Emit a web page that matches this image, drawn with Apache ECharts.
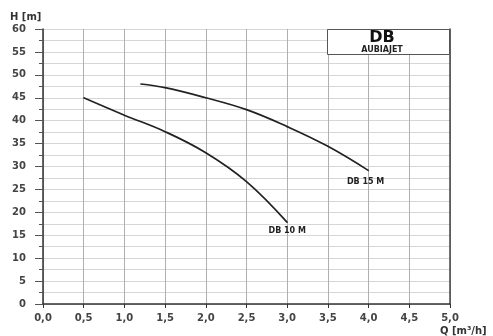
<!DOCTYPE html>
<html><head><meta charset="utf-8">
<script src="https://cdn.jsdelivr.net/npm/echarts@6/dist/echarts.min.js"></script>
<style>html,body{margin:0;padding:0;background:#fff}#c{width:493px;height:336px}</style>
</head><body><div id="c"></div>
<script>
const xTicks = [0, 0.5, 1, 1.5, 2, 2.5, 3, 3.5, 4, 4.5, 5];
const db10Q = [0.5, 1.0, 1.5, 2.0, 2.5, 3.0];
const db10H = [45, 41.2, 37.6, 33.0, 26.7, 17.8];
const db15Q = [1.2, 1.5, 2.0, 2.5, 3.0, 3.5, 4.0];
const db15H = [48, 47.2, 45.0, 42.4, 38.7, 34.4, 29.1];
const seriesNames = ['DB 10 M', 'DB 15 M'];
const titleMain = 'DB';
const titleSub = 'AUBIAJET';

const font = 'DejaVu Sans, Verdana, sans-serif';
function mk(q, h, name, off) {
  return q.map((x, i) => {
    const d = { value: [x, h[i]] };
    if (i === q.length - 1) {
      d.label = { show: true, formatter: name, position: 'bottom', offset: off, distance: 3,
        fontFamily: font, fontWeight: 'bold', fontSize: 8, color: '#222' };
    }
    return d;
  });
}
const chart = echarts.init(document.getElementById('c'), null, { renderer: 'canvas' });
chart.setOption({
  animation: false,
  grid: { left: 43, right: 43, top: 29, bottom: 32 },
  xAxis: {
    type: 'value', min: 0, max: 5, interval: 0.5,
    axisLine: { show: true, onZero: false, lineStyle: { color: '#333', width: 1.5 } },
    axisTick: { show: true, length: 4, lineStyle: { color: '#333' } },
    axisLabel: { margin: 9, fontFamily: font, fontWeight: 'bold', fontSize: 10, color: '#444',
      formatter: v => v.toFixed(1).replace('.', ',') },
    splitLine: { show: true, lineStyle: { color: '#b0b0b0', width: 1 } }
  },
  yAxis: [{
    type: 'value', min: 0, max: 60, interval: 5,
    axisLine: { show: true, lineStyle: { color: '#333', width: 1.5 } },
    axisTick: { show: true, length: 8, lineStyle: { color: '#555' } },
    minorTick: { show: true, splitNumber: 2, length: 4, lineStyle: { color: '#555' } },
    minorSplitLine: { show: true, lineStyle: { color: '#d6d6d6', width: 1 } },
    axisLabel: { margin: 17, fontFamily: font, fontWeight: 'bold', fontSize: 10, color: '#444' },
    splitLine: { show: true, lineStyle: { color: '#d6d6d6', width: 1 } }
  }, {
    type: 'value', min: 0, max: 60, position: 'right',
    axisLine: { show: true, lineStyle: { color: '#444', width: 1.5 } },
    axisTick: { show: false }, axisLabel: { show: false }, splitLine: { show: false }
  }],
  series: [
    { name: seriesNames[0], type: 'line', smooth: 0.4, symbol: 'circle', symbolSize: 1, showSymbol: true,
      itemStyle: { color: '#222' }, data: mk(db10Q, db10H, seriesNames[0], [0, 1]),
      lineStyle: { color: '#222', width: 1.7 } },
    { name: seriesNames[1], type: 'line', smooth: 0.4, symbol: 'circle', symbolSize: 1, showSymbol: true,
      itemStyle: { color: '#222' }, data: mk(db15Q, db15H, seriesNames[1], [-3, 4]),
      lineStyle: { color: '#222', width: 1.7 } }
  ],
  graphic: [
    { type: 'rect', left: 327, top: 29, shape: { width: 122, height: 25 },
      style: { fill: '#fff', stroke: '#555', lineWidth: 1 }, z: 10 },
    { type: 'text', x: 382, y: 38, z: 11,
      style: { text: titleMain, fontFamily: font, fontWeight: 'bold', fontSize: 16, fill: '#111', align: 'center', verticalAlign: 'middle' } },
    { type: 'text', x: 382, y: 50, z: 11,
      style: { text: titleSub, fontFamily: font, fontWeight: 'bold', fontSize: 8, fill: '#222', align: 'center', verticalAlign: 'middle' } },
    { type: 'text', x: 10, y: 17, z: 11,
      style: { text: 'H [m]', fontFamily: font, fontWeight: 'bold', fontSize: 10, fill: '#333', align: 'left', verticalAlign: 'middle' } },
    { type: 'text', x: 440, y: 331, z: 11,
      style: { text: 'Q [m³/h]', fontFamily: font, fontWeight: 'bold', fontSize: 10, fill: '#333', align: 'left', verticalAlign: 'middle' } }
  ]
});
</script></body></html>
